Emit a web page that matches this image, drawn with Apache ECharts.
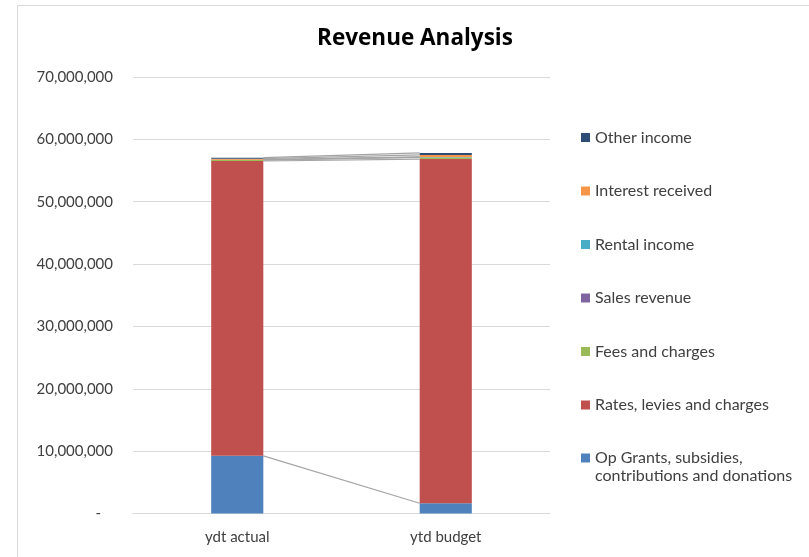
<!DOCTYPE html>
<html>
<head>
<meta charset="utf-8">
<title>Revenue Analysis</title>
<script src="https://cdn.jsdelivr.net/npm/echarts@6/dist/echarts.min.js"></script>
<style>
  html, body { margin: 0; padding: 0; background: #ffffff; }
  #chart { width: 809px; height: 557px; }
</style>
</head>
<body>
<div id="chart"></div>
<script>
// Categories along the x axis
const categories = ['ydt actual', 'ytd budget'];

// Revenue streams (stack order, bottom to top)
const opGrants = [9250000, 1640000];
const rates = [47280000, 55200000];
const feesCharges = [160000, 270000];
const salesRevenue = [20000, 30000];
const rentalIncome = [30000, 40000];
const interestReceived = [160000, 320000];
const otherIncome = [160000, 320000];

// Value axis ticks
const yMin = 0;
const yMax = 70000000;
const yStep = 10000000;

const seriesDefs = [
  { name: 'Op Grants, subsidies, contributions and donations', data: opGrants, color: '#4F81BD' },
  { name: 'Rates, levies and charges', data: rates, color: '#C0504D' },
  { name: 'Fees and charges', data: feesCharges, color: '#9BBB59' },
  { name: 'Sales revenue', data: salesRevenue, color: '#8064A2' },
  { name: 'Rental income', data: rentalIncome, color: '#4BACC6' },
  { name: 'Interest received', data: interestReceived, color: '#F79646' },
  { name: 'Other income', data: otherIncome, color: '#2C4D75' }
];

// Cumulative tops of each stack level, used for the series lines between columns
const levelTops = [];
let runA = 0, runB = 0;
seriesDefs.forEach(function (s) {
  runA += s.data[0];
  runB += s.data[1];
  levelTops.push([0, runA, runB]);
});

const FONT = 'Lato, "Open Sans", sans-serif';
const BAR_RATIO = 0.25;

const barSeries = seriesDefs.map(function (s) {
  return {
    name: s.name,
    type: 'bar',
    stack: 'revenue',
    barWidth: (BAR_RATIO * 100) + '%',
    data: s.data,
    itemStyle: { color: s.color },
    emphasis: { disabled: true },
    z: 3
  };
});

const seriesLines = {
  name: 'series-lines',
  type: 'custom',
  silent: true,
  z: 2,
  encode: { x: 0, y: 1 },
  data: levelTops,
  renderItem: function (params, api) {
    const a = api.coord([0, api.value(1)]);
    const b = api.coord([1, api.value(2)]);
    const half = api.size([1, 0])[0] * BAR_RATIO / 2;
    return {
      type: 'line',
      shape: { x1: a[0] + half, y1: a[1], x2: b[0] - half, y2: b[1] },
      style: { stroke: '#A5A5A5', lineWidth: 1.2 }
    };
  }
};

// Legend runs top to bottom in reverse stack order; the long two-line
// entry gets its own legend so its swatch sits beside the first line.
const ordered = seriesDefs.slice().reverse();
const longName = seriesDefs[0].name;
const legendText = { fontFamily: FONT, fontSize: 16, lineHeight: 18, color: '#404040' };

const chart = echarts.init(document.getElementById('chart'), null, { renderer: 'canvas' });

chart.setOption({
  animation: false,
  backgroundColor: '#ffffff',
  title: {
    text: 'Revenue Analysis',
    left: 415,
    textAlign: 'center',
    top: 27,
    padding: 0,
    textStyle: { fontFamily: '"Open Sans", Lato, sans-serif', fontSize: 22.5, fontWeight: 'bold', color: '#000000' }
  },
  graphic: [{
    type: 'rect',
    silent: true,
    shape: { x: 17.5, y: 5.5, width: 900, height: 700 },
    style: { fill: 'none', stroke: '#D9D9D9', lineWidth: 1 }
  }],
  legend: [{
    orient: 'vertical',
    left: 576,
    top: 123.5,
    itemWidth: 9,
    itemHeight: 9,
    itemGap: 35.5,
    icon: 'rect',
    selectedMode: false,
    data: ordered.slice(0, ordered.length - 1).map(function (s) { return s.name; }),
    textStyle: legendText
  }, {
    orient: 'vertical',
    left: 576,
    top: 426,
    itemWidth: 9,
    itemHeight: 9,
    icon: 'rect',
    selectedMode: false,
    data: [longName],
    formatter: function () {
      return ' \nOp Grants, subsidies,\ncontributions and donations';
    },
    textStyle: legendText
  }],
  grid: { left: 133, right: 259, top: 77, bottom: 43.5, containLabel: false },
  xAxis: {
    type: 'category',
    data: categories,
    axisTick: { show: false },
    axisLine: { lineStyle: { color: '#D9D9D9', width: 1 } },
    axisLabel: { fontFamily: FONT, fontSize: 15, color: '#404040', margin: 16 }
  },
  yAxis: {
    type: 'value',
    min: yMin,
    max: yMax,
    interval: yStep,
    axisLine: { show: false },
    axisTick: { show: false },
    splitLine: { lineStyle: { color: '#D9D9D9', width: 1 } },
    axisLabel: {
      fontFamily: FONT,
      fontSize: 15,
      color: '#404040',
      margin: 20,
      formatter: function (v) {
        if (v === 0) return '{z|-}';
        return v.toLocaleString('en-US');
      },
      rich: { z: { fontFamily: FONT, fontSize: 15, color: '#404040', padding: [0, 12, 0, 0] } }
    }
  },
  series: barSeries.concat([seriesLines])
});
</script>
</body>
</html>
